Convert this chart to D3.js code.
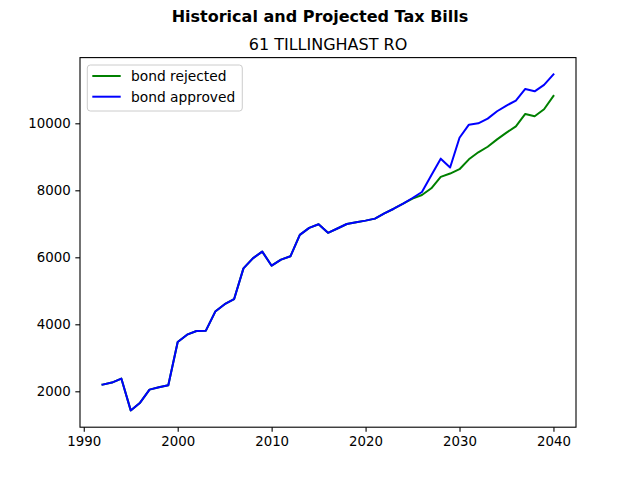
<!DOCTYPE html>
<html>
<head>
<meta charset="utf-8">
<script src="https://cdn.jsdelivr.net/npm/d3@7"></script>
<style>
  body { margin: 0; background: #fff; }
  svg { display: block; font-family: "DejaVu Sans", sans-serif; }
</style>
</head>
<body>
<svg id="chart" width="640" height="480"></svg>
<script>
const years = d3.range(1992, 2041);

// values before 2025 are shared by both series
const bondRejected = [
  2200, 2260, 2380, 1430, 1660, 2050, 2120, 2180, 3470, 3690,
  3800, 3810, 4380, 4600, 4750, 5670, 5970, 6170, 5750, 5930,
  6030, 6670, 6880, 6985, 6730, 6860, 6995, 7045, 7095, 7155,
  7310, 7450, 7600, 7750, 7860, 8060, 8400, 8500, 8630, 8925,
  9135, 9300, 9520, 9720, 9910, 10280, 10210, 10420, 10815
];
const bondApproved = [
  2200, 2260, 2380, 1430, 1660, 2050, 2120, 2180, 3470, 3690,
  3800, 3810, 4380, 4600, 4750, 5670, 5970, 6170, 5750, 5930,
  6030, 6670, 6880, 6985, 6730, 6860, 6995, 7045, 7095, 7155,
  7310, 7450, 7600, 7770, 7950, 8450, 8945, 8680, 9570, 9960,
  10000, 10140, 10360, 10530, 10680, 11025, 10955, 11145, 11460
];
const xTicks = [1990, 2000, 2010, 2020, 2030, 2040];
const yTicks = [2000, 4000, 6000, 8000, 10000];

const series = [
  { name: "bond rejected", values: bondRejected, color: "green" },
  { name: "bond approved", values: bondApproved, color: "blue" }
];

var svg = d3.select("#chart");
var margin = { top: 57.6, right: 64, bottom: 52.8, left: 80 };
var width = +svg.attr("width") - margin.left - margin.right;
var height = +svg.attr("height") - margin.top - margin.bottom;

var g = svg.append("g").attr("transform", `translate(${margin.left},${margin.top})`);

// matplotlib style 5% padding on each side
var xExt = d3.extent(years);
var xPad = (xExt[1] - xExt[0]) * 0.05;
var allVals = [...bondRejected, ...bondApproved];
var yExt = d3.extent(allVals);
var yPad = (yExt[1] - yExt[0]) * 0.05;

var x = d3.scaleLinear().domain([xExt[0] - xPad, xExt[1] + xPad]).range([0, width]);
var y = d3.scaleLinear().domain([yExt[0] - yPad, yExt[1] + yPad]).range([height, 0]);

var xAxis = g.append("g")
  .attr("transform", `translate(0, ${height})`)
  .call(d3.axisBottom(x).tickValues(xTicks).tickFormat(d3.format("d")).tickSize(4.67).tickPadding(4.7));
var yAxis = g.append("g")
  .call(d3.axisLeft(y).tickValues(yTicks).tickFormat(d3.format("d")).tickSize(4.67).tickPadding(4.7));

[xAxis, yAxis].forEach(a => {
  a.select(".domain").remove();
  a.selectAll(".tick line").attr("stroke", "#000").attr("stroke-width", 1.1);
  a.selectAll(".tick text").attr("fill", "#000").style("font-size", "13.33px")
    .style("font-family", "DejaVu Sans, sans-serif");
});

series.forEach(s => {
  const lineGen = d3.line()
    .x((d, i) => x(years[i]))
    .y(d => y(d));
  g.append("path")
    .datum(s.values)
    .attr("class", "series")
    .attr("fill", "none")
    .attr("stroke", s.color)
    .attr("stroke-width", 2)
    .attr("stroke-linejoin", "round")
    .attr("stroke-linecap", "square")
    .attr("d", lineGen);
});

// frame
g.append("rect")
  .attr("width", width)
  .attr("height", height)
  .attr("fill", "none")
  .attr("stroke", "#000")
  .attr("stroke-width", 1.1);

// titles
svg.append("text")
  .attr("x", 320)
  .attr("y", 22)
  .attr("text-anchor", "middle")
  .style("font-size", "16px")
  .style("font-weight", "bold")
  .text("Historical and Projected Tax Bills");

svg.append("text")
  .attr("x", margin.left + width / 2)
  .attr("y", 49.5)
  .attr("text-anchor", "middle")
  .style("font-size", "16px")
  .text("61 TILLINGHAST RO");

// legend
var fs = 13.33;
var leg = g.append("g").attr("transform", `translate(7.3, 7.4)`);
var legBox = leg.append("rect")
  .attr("fill", "#fff")
  .attr("fill-opacity", 0.8)
  .attr("stroke", "#ccc")
  .attr("stroke-width", 1)
  .attr("rx", 3);

var maxW = 0;
var textX = 43.7;
series.forEach((s, i) => {
  var cy = 11 + i * 20.7;
  leg.append("line")
    .attr("x1", 5)
    .attr("x2", 33.4)
    .attr("y1", cy)
    .attr("y2", cy)
    .attr("stroke", s.color)
    .attr("stroke-width", 2);
  var t = leg.append("text")
    .attr("x", textX)
    .attr("y", cy)
    .attr("dy", "0.35em")
    .style("font-size", "13.8px")
    .text(s.name);
  maxW = Math.max(maxW, t.node().getComputedTextLength());
});

legBox
  .attr("width", textX + maxW + 7)
  .attr("height", 46);
</script>
</body>
</html>
